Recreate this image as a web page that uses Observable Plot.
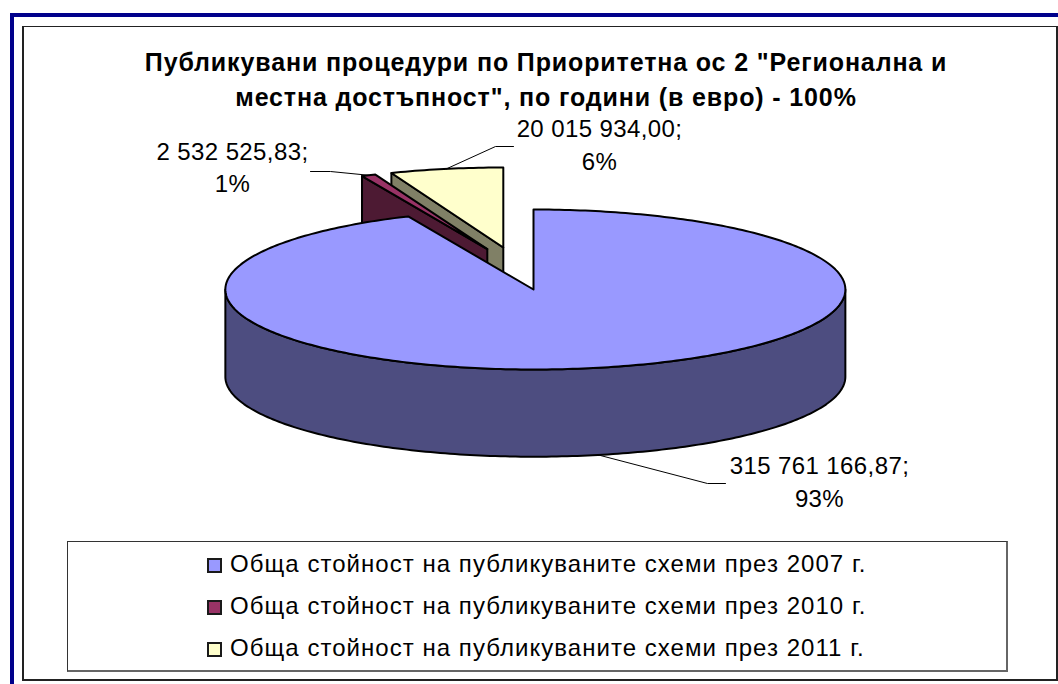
<!DOCTYPE html>
<html lang="bg">
<head>
<meta charset="utf-8">
<script src="https://cdn.jsdelivr.net/npm/d3@7"></script>
<script src="https://cdn.jsdelivr.net/npm/@observablehq/plot@0.6"></script>
<style>
  html, body { margin: 0; padding: 0; background: #fff; }
  #page { position: relative; width: 1058px; height: 684px; overflow: hidden;
          font-family: "Liberation Sans", Arial, sans-serif; color: #000; }
  #page > * { position: absolute; box-sizing: border-box; }
  #page svg { background: transparent; }
  #page svg text { letter-spacing: 0.4px; }
  .blue { background: #00008b; }
  #inner { left: 22px; top: 26px; width: 1036px; height: 655px;
           border: 2px solid #222; border-top-width: 1.5px; border-left-width: 2px; }
  #title { left: 40px; width: 1012px; top: 45px; text-align: center;
           font-weight: 700; font-size: 25px; line-height: 34.5px; letter-spacing: 0.87px; white-space: pre; }
  #legend { left: 67px; top: 541px; width: 941px; height: 131px;
            border: 1px solid #333; border-right: 2px solid #666; border-bottom: 2px solid #666; }
  .legtext { left: 230px; font-size: 24px; line-height: 28px; letter-spacing: 1.04px; white-space: pre; }
</style>
</head>
<body>
<div id="page">
  <div class="blue" style="left:10px;top:13px;width:1048px;height:4px"></div>
  <div class="blue" style="left:10px;top:13px;width:4px;height:671px"></div>
  <div id="inner"></div>
  <div id="title"></div>
  <div id="legend"></div>
</div>
<script>
const titleLines = ['Публикувани процедури по Приоритетна ос 2 "Регионална и', 'местна достъпност", по години (в евро) - 100%'];
const categories = [
  "Обща стойност на публикуваните схеми през 2007 г.",
  "Обща стойност на публикуваните схеми през 2010 г.",
  "Обща стойност на публикуваните схеми през 2011 г."
];
const values = [315761166.87, 2532525.83, 20015934.00];
const topColors = ["#9999FF", "#993366", "#FFFFCC"];
const sideColors = ["#4D4D80", "#4D1A33", "#808066"];
const explodeX = [0, -0.149, -0.0974];
const explodeY = [0, -0.505, -0.525];
const depth = 1.09;

const page = document.getElementById("page");
document.getElementById("title").textContent = titleLines.join("\n");

// pie geometry derived from the values
const total = d3.sum(values);
let acc = 0;
const slices = values.map((v, i) => {
  const a0 = acc / total * 2 * Math.PI;
  acc += v;
  const a1 = acc / total * 2 * Math.PI;
  return {i, v, a0, a1, mid: (a0 + a1) / 2, ox: explodeX[i], oy: explodeY[i]};
});
const rimPt = (s, a, dz = 0) => {
  const sx = Math.sin(a);
  return {x: s.ox + sx * (sx > 0 ? 1.006 : 0.994), y: s.oy - Math.cos(a) + dz};
};
const arcPts = (s, a0, a1, dz = 0) => {
  const n = Math.max(2, Math.ceil((a1 - a0) * 60));
  return d3.range(n + 1).map(k => rimPt(s, a0 + (a1 - a0) * k / n, dz));
};
const apex = s => ({x: s.ox, y: s.oy});
const topFace = s => [apex(s), ...arcPts(s, s.a0, s.a1)];
const cutFace = s => [apex(s), rimPt(s, s.a0), rimPt(s, s.a0, depth), {x: s.ox, y: s.oy + depth}];
const rimFace = s => [...arcPts(s, Math.PI / 2, 3 * Math.PI / 2), ...arcPts(s, Math.PI / 2, 3 * Math.PI / 2, depth).reverse()];

const xDomain = [-1, 1], xRange = [223, 843];
const yDomain = [-1, 1], yRange = [209, 369];
const ux = d3.scaleLinear().domain(xRange).range(xDomain);
const uy = d3.scaleLinear().domain(yRange).range(yDomain);

const fmt = d3.formatLocale({decimal: ",", thousands: " ", grouping: [3]}).format(",.2f");
const valueText = s => fmt(s.v) + ";";
const pctText = s => Math.round(s.v / total * 100) + "%";

// leader lines start on the slice's mid-angle, then a knee and a short run to the label
const leaderStart = [
  rimPt(slices[0], slices[0].mid, depth),
  rimPt(slices[1], slices[1].mid),
  rimPt(slices[2], slices[2].mid)
];
const leaderKnees = [[[707, 483], [725, 483]], [[330, 171], [310, 171]], [[495, 146], [513, 146]]];
const leaders = leaderStart.map((p, i) => [p, ...leaderKnees[i].map(([x, y]) => ({x: ux(x), y: uy(y)}))]);

const labelAnchors = [[819, 465.5, 498.5], [232, 152, 184], [599, 128.5, 161.5]];
const valueLabels = slices.map((s, i) => ({x: ux(labelAnchors[i][0]), y: uy(labelAnchors[i][1]), t: valueText(s)}));
const pctLabels = slices.map((s, i) => ({x: ux(labelAnchors[i][0]), y: uy(labelAnchors[i][2]), t: pctText(s)}));

const face = (pts, fill) => Plot.line(pts, {x: "x", y: "y", fill, stroke: "#000", strokeWidth: 2, curve: "linear-closed"});
const textFont = "Liberation Sans, Arial, sans-serif";

const chart = Plot.plot({
  width: 1058, height: 684, margin: 0,
  x: {domain: xDomain, range: xRange, axis: null},
  y: {domain: yDomain, range: yRange, axis: null},
  marks: [
    face(cutFace(slices[2]), sideColors[2]),
    face(topFace(slices[2]), topColors[2]),
    face(cutFace(slices[1]), sideColors[1]),
    face(topFace(slices[1]), topColors[1]),
    face(rimFace(slices[0]), sideColors[0]),
    face(topFace(slices[0]), topColors[0]),
    ...leaders.map(l => Plot.line(l, {x: "x", y: "y", stroke: "#000", strokeWidth: 1})),
    Plot.text(valueLabels, {x: "x", y: "y", text: "t", fontSize: 24, fontFamily: textFont, fill: "#000"}),
    Plot.text(pctLabels, {x: "x", y: "y", text: "t", fontSize: 24, fontFamily: textFont, fill: "#000"})
  ]
});
chart.style.left = "0"; chart.style.top = "0"; chart.style.position = "absolute";
page.appendChild(chart);

// legend
const legendRowY = [564, 606, 648];
categories.forEach((c, i) => {
  const sw = document.createElement("div");
  sw.style.cssText = `left:207px;top:${legendRowY[i] - 6}px;width:15px;height:15px;border:2px solid #1a1a1a;background:${topColors[i]}`;
  page.appendChild(sw);
  const t = document.createElement("div");
  t.className = "legtext";
  t.style.top = (legendRowY[i] - 14) + "px";
  t.textContent = c;
  page.appendChild(t);
});
</script>
</body>
</html>
